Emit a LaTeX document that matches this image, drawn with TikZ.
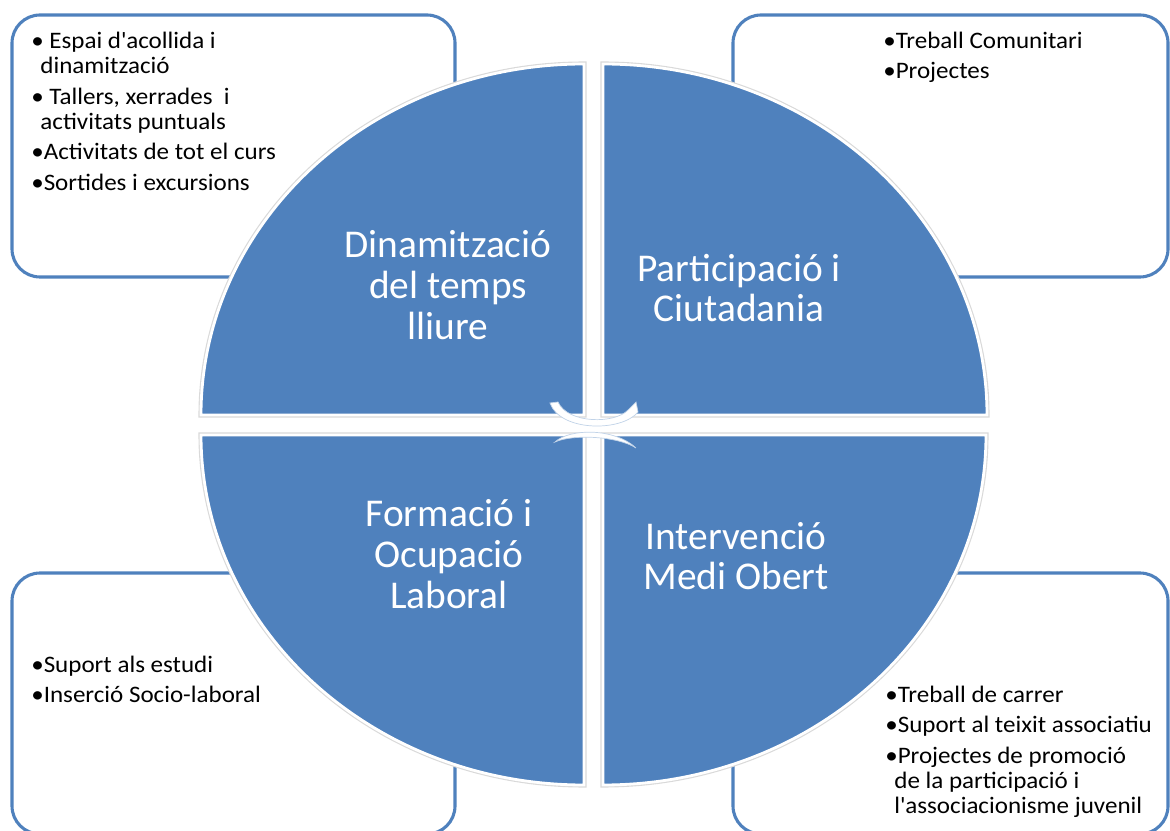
\documentclass[tikz,border=0pt]{standalone}
\usepackage{fontspec}
\setmainfont{Carlito}
\newfontfamily\jovwide{Carlito}[FakeStretch=1.06]
\usepackage{xcolor}
\definecolor{jovblue}{HTML}{4F81BD}
\definecolor{jovline}{HTML}{4F81BD}
\usetikzlibrary{positioning}
\tikzset{
  jovquad/.style={fill=jovblue,draw=white,line width=2pt,preaction={draw=black!15,line width=3.6pt}},
  jovbox/.style={draw=jovline,line width=2.2pt,fill=white,rounded corners=0.7cm},
  jovlist/.style={anchor=north west,inner sep=0pt,align=left,font=\jovwide\fontsize{16.8}{18}\selectfont},
  jovlabel/.style={text=white,align=center,inner sep=0pt,font=\fontsize{28}{29}\selectfont},
  jovmark/.style={fill=white,draw=jovblue!35,line width=0.5pt},
}

\begin{document}
\begin{tikzpicture}[x=0.025cm,y=0.025cm]
 % four fields of work round the circle
\useasboundingbox (0,0) rectangle (1170,830);
\draw[jovbox] (12,553) rectangle (455,815);
\draw[jovbox] (733,553) rectangle (1168,815);
\draw[jovbox] (12,-4) rectangle (455,257);
\draw[jovbox] (733,-4) rectangle (1168,257);
\node[jovlist] (ltl) at (31,798) {\textbullet\ Espai d\textquotesingle acollida i\\\hspace*{6.5pt}dinamització\\[3.5pt]\textbullet\ Tallers, xerrades \ i\\\hspace*{6.5pt}activitats puntuals\\[3.5pt]\textbullet Activitats de tot el curs\\[3.5pt]\textbullet Sortides i excursions};
\node[jovlist] (ltr) at (883,798) {\textbullet Treball Comunitari\\[3.5pt]\textbullet Projectes};
\node[jovlist] (lbl) at (31,174) {\textbullet Suport als estudi\\[3.5pt]\textbullet Inserció Socio-laboral};
\node[jovlist] (lbr) at (885,144) {\textbullet Treball de carrer\\[3.5pt]\textbullet Suport al teixit associatiu\\[3.5pt]\textbullet Projectes de promoció\\\hspace*{6.5pt}de la participació i\\\hspace*{6.5pt}l\textquotesingle associacionisme juvenil};
\draw[jovquad] (584,415) -- (201,415) arc[start angle=180,end angle=90,x radius=383,y radius=351] -- cycle;
\draw[jovquad] (603,415) -- (987,415) arc[start angle=0,end angle=90,x radius=384,y radius=351] -- cycle;
\draw[jovquad] (584,395) -- (201,395) arc[start angle=180,end angle=270,x radius=383,y radius=350] -- cycle;
\draw[jovquad] (603,395) -- (986,395) arc[start angle=0,end angle=-90,x radius=383,y radius=350] -- cycle;
\draw[jovmark] (550,427) .. controls (560,398) and (622,398) .. (638,418) -- (636,428) -- (628,420) .. controls (615,406) and (568,406) .. (558,428) -- cycle;
\draw[jovmark] (555,388) .. controls (570,402) and (615,402) .. (636,382) .. controls (618,394) and (572,396) .. (555,388) -- cycle;
\node[jovlabel] (dtl) at (448,545) {Dinamització\\del temps\\lliure};
\node[jovlabel] (pic) at (739,542) {Participació i\\Ciutadania};
\node[jovlabel] (fol) at (449,276) {Formació i\\Ocupació\\Laboral};
\node[jovlabel] (imo) at (736,274) {Intervenció\\Medi Obert};
\end{tikzpicture}
\end{document}
